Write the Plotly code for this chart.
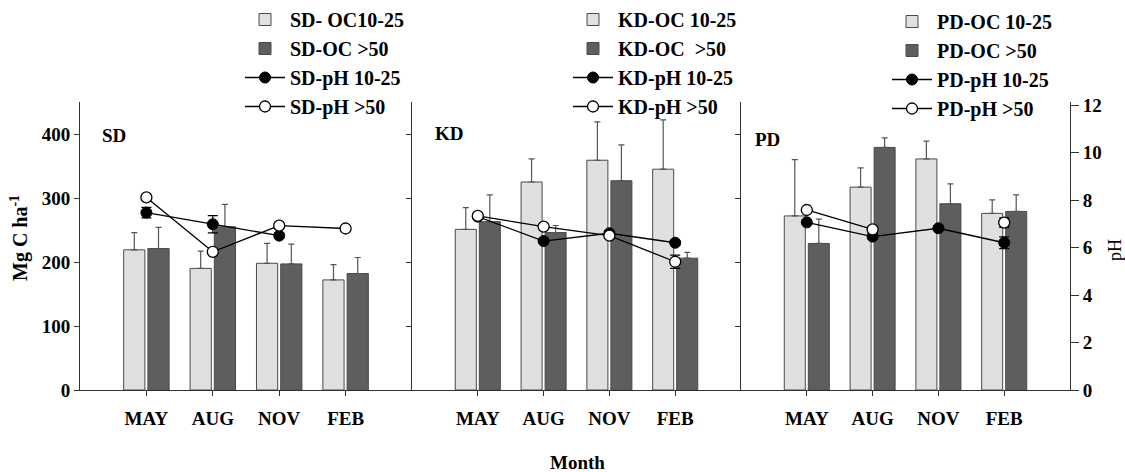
import plotly.graph_objects as go

# ---------------- data ----------------
months = ["MAY", "AUG", "NOV", "FEB"]
xpos = [1, 2, 3, 4]

sd_oc_10_25 = [219, 190, 198, 172]
sd_oc_10_25_err = [27, 27, 31, 24]
sd_oc_50 = [221, 255, 197, 182]
sd_oc_50_err = [33, 35, 31, 25]
sd_ph_10_25 = [7.47, 6.98, 6.50, None]
sd_ph_10_25_err = [0.22, 0.36, 0.10, 0]
sd_ph_50 = [8.11, 5.82, 6.92, 6.80]
sd_ph_50_err = [0.1, 0.1, 0.1, 0.1]

kd_oc_10_25 = [251, 325, 359, 345]
kd_oc_10_25_err = [34, 36, 60, 77]
kd_oc_50 = [263, 246, 327, 206]
kd_oc_50_err = [42, 11, 56, 9]
kd_ph_10_25 = [7.30, 6.27, 6.60, 6.20]
kd_ph_10_25_err = [0.1, 0.1, 0.1, 0.1]
kd_ph_50 = [7.33, 6.88, 6.50, 5.40]
kd_ph_50_err = [0.1, 0.1, 0.1, 0.28]

pd_oc_10_25 = [272, 317, 361, 276]
pd_oc_10_25_err = [88, 30, 28, 21]
pd_oc_50 = [229, 379, 291, 279]
pd_oc_50_err = [38, 15, 31, 26]
pd_ph_10_25 = [7.06, 6.46, 6.81, 6.20]
pd_ph_10_25_err = [0.1, 0.1, 0.1, 0.25]
pd_ph_50 = [7.58, 6.76, None, 7.05]
pd_ph_50_err = [0.1, 0.1, 0, 0.2]

oc_ticks = [0, 100, 200, 300, 400]
ph_ticks = [0, 2, 4, 6, 8, 10, 12]

# ---------------- style ----------------
FONT = "Liberation Serif, Times New Roman, serif"
LIGHT = "#e0e0e0"
DARK = "#5e5e5e"
EDGE = "#4a4a4a"
W, H = 1125, 472


def px_x(p):
    return p / W


def px_y(p):
    return (H - p) / H


fig = go.Figure()

panels = [
    ("SD", "legend", "x", "y", "y4",
     ["SD- OC10-25", "SD-OC >50", "SD-pH 10-25", "SD-pH >50"],
     sd_oc_10_25, sd_oc_10_25_err, sd_oc_50, sd_oc_50_err,
     sd_ph_10_25, sd_ph_10_25_err, sd_ph_50, sd_ph_50_err),
    ("KD", "legend2", "x2", "y2", "y5",
     ["KD-OC 10-25", "KD-OC  >50", "KD-pH 10-25", "KD-pH >50"],
     kd_oc_10_25, kd_oc_10_25_err, kd_oc_50, kd_oc_50_err,
     kd_ph_10_25, kd_ph_10_25_err, kd_ph_50, kd_ph_50_err),
    ("PD", "legend3", "x3", "y3", "y6",
     ["PD-OC 10-25", "PD-OC >50", "PD-pH 10-25", "PD-pH >50"],
     pd_oc_10_25, pd_oc_10_25_err, pd_oc_50, pd_oc_50_err,
     pd_ph_10_25, pd_ph_10_25_err, pd_ph_50, pd_ph_50_err),
]

for (lab, leg, xa, ya, yph, names, oc1, oc1e, oc2, oc2e,
     ph1, ph1e, ph2, ph2e) in panels:
    fig.add_trace(go.Bar(
        x=xpos, y=oc1, name=names[0], legend=leg, xaxis=xa, yaxis=ya,
        marker=dict(color=LIGHT, line=dict(color=EDGE, width=1)),
        error_y=dict(type="data", array=oc1e, arrayminus=[0] * 4,
                     symmetric=False, color="#555555", thickness=1.2, width=3),
    ))
    fig.add_trace(go.Bar(
        x=xpos, y=oc2, name=names[1], legend=leg, xaxis=xa, yaxis=ya,
        marker=dict(color=DARK, line=dict(color=EDGE, width=1)),
        error_y=dict(type="data", array=oc2e, arrayminus=[0] * 4,
                     symmetric=False, color="#555555", thickness=1.2, width=3),
    ))
for (lab, leg, xa, ya, yph, names, oc1, oc1e, oc2, oc2e,
     ph1, ph1e, ph2, ph2e) in panels:
    fig.add_trace(go.Scatter(
        x=xpos, y=ph1, name=names[2], legend=leg, xaxis=xa, yaxis=yph,
        mode="lines+markers", connectgaps=False,
        line=dict(color="black", width=1.3),
        marker=dict(color="black", size=11, line=dict(color="black", width=1)),
        error_y=dict(type="data", array=ph1e, color="black", thickness=1.2, width=5),
    ))
    fig.add_trace(go.Scatter(
        x=xpos, y=ph2, name=names[3], legend=leg, xaxis=xa, yaxis=yph,
        mode="lines+markers", connectgaps=False,
        line=dict(color="black", width=1.3),
        marker=dict(color="white", size=11, line=dict(color="black", width=1.3)),
        error_y=dict(type="data", array=ph2e, color="black", thickness=1.2, width=5),
    ))

ydom = [px_y(390), px_y(102)]
ph_top = 12 * 288 / 285
tickfont = dict(family=FONT, size=19, color="black", weight="bold")

xcommon = dict(range=[0, 5], tickvals=xpos, ticktext=months, showline=True,
               linecolor="#333", linewidth=1, ticks="outside", ticklen=5,
               tickcolor="#333", showgrid=False, zeroline=False,
               tickfont=tickfont, fixedrange=True, ticklabelstandoff=6)
ycommon = dict(range=[0, 450], domain=ydom, showline=True, linecolor="#333",
               linewidth=1, ticks="outside", tickvals=oc_ticks, ticklen=5,
               tickcolor="#333", showgrid=False, zeroline=False,
               tickfont=tickfont)

legcommon = dict(font=dict(family=FONT, size=20, color="black", weight="bold"),
                 bgcolor="rgba(0,0,0,0)", itemwidth=40, xanchor="left",
                 yanchor="top", traceorder="normal", tracegroupgap=0,
                 itemclick=False, itemdoubleclick=False)

fig.update_layout(
    width=W, height=H,
    margin=dict(l=0, r=0, t=0, b=0, autoexpand=False),
    paper_bgcolor="white", plot_bgcolor="white",
    barmode="group", bargap=0.27, bargroupgap=0.125,
    font=dict(family=FONT, color="black"),
    xaxis=dict(domain=[px_x(80), px_x(412)], anchor="y", **xcommon),
    xaxis2=dict(domain=[px_x(412), px_x(741)], anchor="y2", **xcommon),
    xaxis3=dict(domain=[px_x(741), px_x(1070)], anchor="y3", **xcommon),
    yaxis=dict(anchor="x", **ycommon),
    yaxis2=dict(anchor="x2", showticklabels=False, **ycommon),
    yaxis3=dict(anchor="x3", showticklabels=False, **ycommon),
    yaxis4=dict(anchor="x", overlaying="y", range=[0, ph_top], visible=False,
                domain=ydom),
    yaxis5=dict(anchor="x2", overlaying="y2", range=[0, ph_top], visible=False,
                domain=ydom),
    yaxis6=dict(anchor="x3", overlaying="y3", side="right", range=[0, ph_top],
                domain=ydom, tickvals=ph_ticks, showline=True, linecolor="#333",
                linewidth=1, ticks="outside", ticklen=8, tickcolor="#333",
                showgrid=False, zeroline=False, tickfont=tickfont),
    legend=dict(x=px_x(240), y=px_y(0), **legcommon),
    legend2=dict(x=px_x(568), y=px_y(0), **legcommon),
    legend3=dict(x=px_x(887), y=px_y(2), **legcommon),
    showlegend=True,
)

annots = [
    dict(text="SD", x=px_x(100), y=px_y(135)),
    dict(text="KD", x=px_x(433), y=px_y(133)),
    dict(text="PD", x=px_x(753), y=px_y(139)),
]
for a in annots:
    fig.add_annotation(xref="paper", yref="paper", xanchor="left", yanchor="middle",
                       showarrow=False,
                       font=dict(family=FONT, size=19, color="black", weight="bold"), **a)

fig.add_annotation(text="Mg C ha<sup>-1</sup>", xref="paper", yref="paper",
                   x=px_x(19), y=px_y(238), textangle=-90, showarrow=False,
                   xanchor="center", yanchor="middle",
                   font=dict(family=FONT, size=20, color="black", weight="bold"))
fig.add_annotation(text="pH", xref="paper", yref="paper",
                   x=px_x(1115), y=px_y(250), textangle=-90, showarrow=False,
                   xanchor="center", yanchor="middle",
                   font=dict(family=FONT, size=18, color="black"))
fig.add_annotation(text="Month", xref="paper", yref="paper",
                   x=px_x(577), y=px_y(462), showarrow=False,
                   xanchor="center", yanchor="middle",
                   font=dict(family=FONT, size=19, color="black", weight="bold"))

fig.write_html(
    "out.html",
    config={"displayModeBar": False},
    post_script="document.body.style.margin='0';document.body.style.overflow='hidden';",
)
